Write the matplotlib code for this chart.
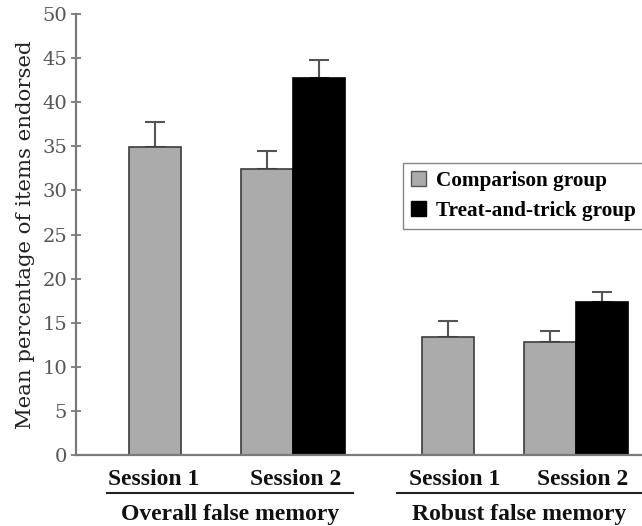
import matplotlib
matplotlib.use("Agg")
import matplotlib.pyplot as plt
from matplotlib.patches import Patch
from matplotlib.transforms import blended_transform_factory

# ---------------- data ----------------
measures = ["Overall false memory", "Robust false memory"]
sessions = ["Session 1", "Session 2", "Session 1", "Session 2"]
groups = ["Comparison group", "Treat-and-trick group"]
# order: Overall S1, Overall S2, Robust S1, Robust S2
comparison_means = [34.9, 32.4, 13.4, 12.8]
comparison_err = [2.9, 2.1, 1.8, 1.3]
treat_means = [None, 42.7, None, 17.4]
treat_err = [None, 2.1, None, 1.1]
yticks = [0, 5, 10, 15, 20, 25, 30, 35, 40, 45, 50]
ylabel = "Mean percentage of items endorsed"

# ---------------- layout / style ----------------
W, H = 642, 526
session_centers = [1.52, 4.17, 7.15, 9.62]
session_label_x = [1.50, 4.22, 7.29, 9.75]
bracket_spans = [(0.60, 5.33), (6.17, 10.87)]
bar_w = 1.0
comp_color = "#ababab"
treat_color = "#000000"
edge_color = "#3c3c3c"
err_color = "#555555"
axis_color = "#7a7a7a"

fig = plt.figure(figsize=(W / 100, H / 100), dpi=100)
fig.patch.set_facecolor("white")
ax = fig.add_axes([76 / W, 1 - 455 / H, 1 - 76 / W, (455 - 14) / H])

for i, c in enumerate(session_centers):
    has_treat = treat_means[i] is not None
    xc = c - 0.5 * bar_w if has_treat else c
    ax.bar(xc, comparison_means[i], width=bar_w, color=comp_color,
           edgecolor=edge_color, linewidth=1.2, zorder=2)
    ax.errorbar(xc, comparison_means[i], yerr=[[0], [comparison_err[i]]],
                fmt="none", ecolor=err_color, elinewidth=1.5, capsize=7.5,
                capthick=1.5, zorder=1)
    if has_treat:
        xt = c + 0.5 * bar_w
        ax.bar(xt, treat_means[i], width=bar_w, color=treat_color,
               edgecolor=treat_color, linewidth=1.2, zorder=2)
        ax.errorbar(xt, treat_means[i], yerr=[[0], [treat_err[i]]],
                    fmt="none", ecolor=err_color, elinewidth=1.5, capsize=7.5,
                    capthick=1.5, zorder=1)

ax.set_xlim(0, (W - 76) / 52)
ax.set_ylim(0, 50)
ax.set_yticks(yticks)
ax.set_yticklabels([str(t) for t in yticks], family="DejaVu Serif",
                   fontsize=14, color="#555555")
ax.set_xticks([])
ax.tick_params(axis="y", direction="inout", length=7, width=1.3,
               color=axis_color, pad=3)
for s in ["top", "right"]:
    ax.spines[s].set_visible(False)
for s in ["left", "bottom"]:
    ax.spines[s].set_color(axis_color)
    ax.spines[s].set_linewidth(1.6)

ax.set_ylabel(ylabel, family="DejaVu Serif", fontsize=15.3, color="#222222",
              labelpad=5)

trans = blended_transform_factory(ax.transData, fig.transFigure)
for lx, lab in zip(session_label_x, sessions):
    ax.text(lx, 1 - 485 / H, lab, transform=trans, ha="center", va="baseline",
            family="Liberation Serif", fontweight="bold", fontsize=17,
            color="#111111", clip_on=False)
for (x0, x1), lab in zip(bracket_spans, measures):
    ax.plot([x0, x1], [1 - 493 / H, 1 - 493 / H], transform=trans,
            color="#222222", linewidth=1.5, clip_on=False)
    ax.text((x0 + x1) / 2, 1 - 520 / H, lab, transform=trans, ha="center",
            va="baseline", family="Liberation Serif", fontweight="bold",
            fontsize=17, color="#111111", clip_on=False)

handles = [Patch(facecolor=comp_color, edgecolor="#555555", linewidth=1.0),
           Patch(facecolor=treat_color, edgecolor="#000000", linewidth=1.0)]
leg = ax.legend(handles, groups, loc="upper left",
                bbox_to_anchor=(403 / W, 1 - 163 / H),
                bbox_transform=fig.transFigure, frameon=True, fancybox=False,
                prop={"family": "Liberation Serif", "weight": "bold",
                      "size": 15.3},
                handlelength=0.72, handleheight=0.72, handletextpad=0.45,
                labelspacing=0.45, borderpad=0.38, borderaxespad=0)
leg.get_frame().set_edgecolor("#666666")
leg.get_frame().set_linewidth(1.0)

fig.savefig("out.png", dpi=100)
